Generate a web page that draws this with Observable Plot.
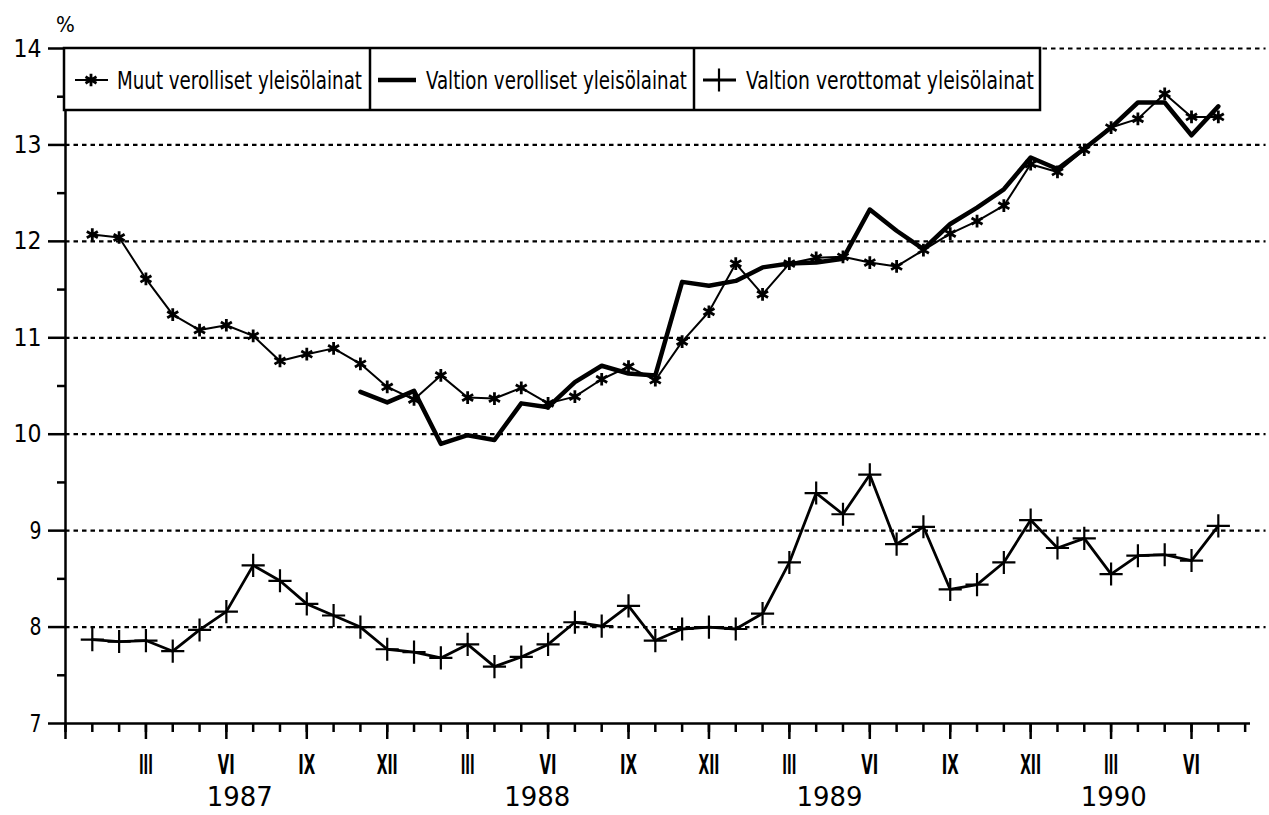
<!DOCTYPE html>
<html><head><meta charset="utf-8">
<script src="https://cdn.jsdelivr.net/npm/d3@7"></script>
<script src="https://cdn.jsdelivr.net/npm/@observablehq/plot@0.6"></script>
<style>
body{margin:0;background:#fff;}
svg text{font-family:"Liberation Sans Narrow","DejaVu Sans Condensed","Roboto",sans-serif;}
</style></head><body><div id="chart"></div>
<script>
// Months Jan 1987 .. Jul 1990
const months = ["1987-01","1987-02","1987-03","1987-04","1987-05","1987-06","1987-07","1987-08","1987-09","1987-10","1987-11","1987-12",
"1988-01","1988-02","1988-03","1988-04","1988-05","1988-06","1988-07","1988-08","1988-09","1988-10","1988-11","1988-12",
"1989-01","1989-02","1989-03","1989-04","1989-05","1989-06","1989-07","1989-08","1989-09","1989-10","1989-11","1989-12",
"1990-01","1990-02","1990-03","1990-04","1990-05","1990-06","1990-07"];

const seriesNames = ["Muut verolliset yleisölainat","Valtion verolliset yleisölainat","Valtion verottomat yleisölainat"];

const muutVerolliset = [12.07,12.04,11.61,11.24,11.08,11.13,11.02,10.76,10.83,10.89,10.73,10.49,
10.36,10.61,10.38,10.37,10.48,10.32,10.39,10.57,10.70,10.56,10.96,11.27,
11.77,11.45,11.77,11.83,11.84,11.78,11.74,11.91,12.08,12.21,12.37,12.80,
12.72,12.95,13.18,13.27,13.53,13.29,13.29];

const valtionVerolliset = [null,null,null,null,null,null,null,null,null,null,10.44,10.33,
10.45,9.90,9.99,9.94,10.32,10.28,10.54,10.71,10.63,10.61,11.58,11.54,
11.59,11.73,11.77,11.78,11.82,12.33,12.11,11.92,12.18,12.35,12.54,12.87,
12.75,12.96,13.18,13.44,13.44,13.10,13.40];

const valtionVerottomat = [7.87,7.85,7.86,7.75,7.97,8.16,8.64,8.48,8.24,8.12,8.00,7.77,
7.74,7.68,7.82,7.59,7.69,7.82,8.05,8.01,8.22,7.86,7.98,8.00,
7.98,8.14,8.67,9.39,9.17,9.58,8.86,9.04,8.39,8.44,8.67,9.11,
8.82,8.92,8.55,8.74,8.75,8.69,9.05];

const yTickValues = [7,8,9,10,11,12,13,14];
const yHalfTicks = [7.5,8.5,9.5,10.5,11.5,12.5,13.5];
const gridValues = [8,9,10,11,12,13,14];
const quarterNames = {3:"III",6:"VI",9:"IX",12:"XII"};
const years = ["1987","1988","1989","1990"];
const yearLabelAt = [5.5,16.6,27.5,38.1]; // in month-index units

// month index: 0 = Jan 1987; ticks run from Dec 1986 (-1) to Aug 1990 (43)
const tickMonths = d3.range(-1, 44);
const monthOf = i => ((i % 12) + 12) % 12 + 1;
const majorTicks = tickMonths.filter(i => monthOf(i) % 3 === 0);
const quarterLabels = majorTicks.filter(i => i >= 0 && i < months.length).map(i => ({i, label: quarterNames[monthOf(i)]}));
const yearRows = years.map((y, k) => ({year: y, at: yearLabelAt[k]}));

const rows1 = months.map((m, i) => ({i, v: muutVerolliset[i]}));
const rows2 = months.map((m, i) => ({i, v: valtionVerolliset[i]})).filter(d => d.v != null);
const rows3 = months.map((m, i) => ({i, v: valtionVerottomat[i]}));

const chart = Plot.plot({
  width: 1269, height: 815,
  marginLeft: 65, marginRight: 19, marginTop: 48, marginBottom: 92,
  x: {domain: [-1, 43.2]},
  y: {domain: [7, 14]},
  marks: [
    Plot.ruleY(gridValues, {x1: -1, x2: 43.78, strokeDasharray: "4.5,4", strokeWidth: 2.2}),
    // axis lines
    Plot.ruleX([-1], {y1: 7, y2: 14, strokeWidth: 2.5}),
    Plot.ruleY([7], {x1: -1, x2: 43.2, strokeWidth: 2.5}),
    Plot.axisY({ticks: yTickValues, tickSize: 17, tickPadding: 7, tickFormat: d => String(d), fontSize: 25, strokeWidth: 2.5, label: null}),
    Plot.axisY({ticks: yHalfTicks, tickSize: 8, tickFormat: () => "", strokeWidth: 2.5, label: null}),
    Plot.axisX({ticks: tickMonths, tickSize: 9, tickFormat: () => "", strokeWidth: 2.5, label: null}),
    Plot.axisX({ticks: majorTicks, tickSize: 16, tickFormat: () => "", strokeWidth: 2.5, label: null}),
    Plot.text(quarterLabels, {x: "i", text: "label", frameAnchor: "bottom", lineAnchor: "middle", dy: 42, fontSize: 27, fontWeight: "bold"}),
    Plot.text(yearRows, {x: "at", text: "year", frameAnchor: "bottom", lineAnchor: "middle", dy: 74, fontSize: 26}),
    Plot.text(["%"], {frameAnchor: "top-left", textAnchor: "middle", lineAnchor: "middle", dx: 0, dy: -24, fontSize: 22}),
    // series
    Plot.line(rows3, {x: "i", y: "v", strokeWidth: 2.8, strokeLinejoin: "round"}),
    Plot.dot(rows3, {x: "i", y: "v", symbol: "plus", r: 7.5, stroke: "black", strokeWidth: 2.2}),
    Plot.line(rows2, {x: "i", y: "v", strokeWidth: 4.5, strokeLinejoin: "round"}),
    Plot.line(rows1, {x: "i", y: "v", strokeWidth: 2, strokeLinejoin: "round"}),
    Plot.dot(rows1, {x: "i", y: "v", symbol: "asterisk", r: 6, stroke: "black", strokeWidth: 2.8})
  ]
});
document.getElementById("chart").appendChild(chart);

// narrow, tall lettering like the original print
const svg = d3.select(chart);
const romanWidth = {III: 14, VI: 17, IX: 17, XII: 21};
svg.selectAll("text").each(function () {
  const t = this.textContent;
  let w = null;
  if (years.includes(t)) w = 66;
  else if (romanWidth[t]) w = romanWidth[t];
  else if (/^\d+$/.test(t)) w = t.length === 2 ? 28 : 12;
  if (w) d3.select(this).attr("textLength", w).attr("lengthAdjust", "spacingAndGlyphs");
});

// legend box inside the plot area
const lg = svg.append("g").attr("aria-label", "legend").attr("text-anchor", "start");
lg.append("rect").attr("x", 64).attr("y", 48).attr("width", 976).attr("height", 62)
  .attr("fill", "white").attr("stroke", "black").attr("stroke-width", 2.5);
[370, 694].forEach(x => lg.append("line").attr("x1", x).attr("x2", x).attr("y1", 48).attr("y2", 110)
  .attr("stroke", "black").attr("stroke-width", 2.5));
const cells = [
  {lx1: 75, lx2: 108, lw: 2, sym: d3.symbolAsterisk, sx: 91, r: 6, sw: 2.8, tx: 117, tl: 245},
  {lx1: 378, lx2: 416, lw: 4.5, sym: null, tx: 426, tl: 261},
  {lx1: 703, lx2: 736, lw: 2.8, sym: d3.symbolPlus, sx: 719, r: 7.5, sw: 2.2, tx: 746, tl: 288}
];
cells.forEach((c, k) => {
  lg.append("line").attr("x1", c.lx1).attr("x2", c.lx2).attr("y1", 80).attr("y2", 80)
    .attr("stroke", "black").attr("stroke-width", c.lw);
  if (c.sym) lg.append("path").attr("d", d3.symbol(c.sym, Math.PI * c.r * c.r)())
    .attr("transform", `translate(${c.sx},80)`).attr("fill", "none").attr("stroke", "black").attr("stroke-width", c.sw);
  lg.append("text").attr("x", c.tx).attr("y", 89).attr("font-size", 25).attr("text-anchor", "start")
    .attr("textLength", c.tl).attr("lengthAdjust", "spacingAndGlyphs").text(seriesNames[k]);
});
</script></body></html>
